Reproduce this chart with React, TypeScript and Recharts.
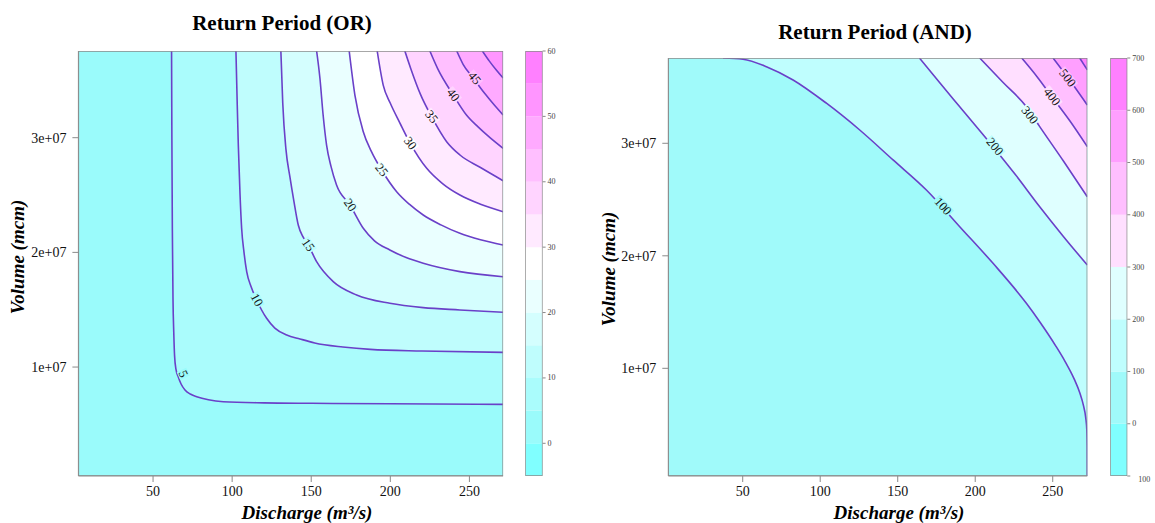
import React from 'react';
import {
  ComposedChart,
  Area,
  Line,
  Scatter,
  XAxis,
  YAxis,
  CartesianGrid
} from 'recharts';

// axis ticks shared by both panels
const dischargeTicks = [50, 100, 150, 200, 250];
const volumeTicks = [1e7, 2e7, 3e7];

// ---- Return Period (OR) ----
const orLevels = [5, 10, 15, 20, 25, 30, 35, 40, 45, 50];
const or5 = [[61.7, 3.756e7], [61.9, 3.0e7], [62.2, 2.2e7], [62.6, 1.6e7], [63.1, 1.3e7], [63.6, 1.1e7], [64.5, 0.98e7], [65.9, 0.916e7], [67.8, 0.85e7], [70.2, 0.80e7], [73.5, 0.765e7], [77.6, 0.742e7], [85, 0.715e7], [94.4, 0.698e7], [120, 0.688e7], [150, 0.684e7], [200, 0.68e7], [271.3, 0.675e7]];
const or10 = [[102.4, 3.756e7], [103.2, 3.3e7], [103.9, 2.936e7], [105, 2.5e7], [106, 2.21e7], [107.5, 2.0e7], [109.2, 1.832e7], [112, 1.7e7], [115.5, 1.585e7], [121.8, 1.425e7], [127, 1.34e7], [134.5, 1.28e7], [142.9, 1.245e7], [152.2, 1.21e7], [170, 1.175e7], [187.4, 1.154e7], [220, 1.14e7], [271.3, 1.128e7]];
const or15 = [[130.8, 3.756e7], [132, 3.3e7], [134, 2.9e7], [136.5, 2.66e7], [139, 2.45e7], [141.8, 2.239e7], [145, 2.13e7], [148.1, 2.064e7], [153.4, 1.919e7], [163.9, 1.745e7], [178.7, 1.629e7], [199.7, 1.556e7], [220.8, 1.518e7], [244, 1.498e7], [271.3, 1.478e7]];
const or20 = [[153.4, 3.756e7], [155.5, 3.518e7], [157.5, 3.2e7], [159.7, 2.936e7], [162.5, 2.75e7], [166, 2.588e7], [174.5, 2.413e7], [182.9, 2.21e7], [190, 2.1e7], [199.7, 2.021e7], [210, 1.955e7], [220.8, 1.905e7], [244, 1.832e7], [271.3, 1.788e7]];
const or25 = [[174, 3.756e7], [177.6, 3.372e7], [182.9, 3.052e7], [188, 2.88e7], [194.5, 2.718e7], [204, 2.529e7], [212, 2.42e7], [220.8, 2.326e7], [232, 2.24e7], [244, 2.166e7], [257, 2.11e7], [271.3, 2.064e7]];
const or30 = [[191.7, 3.756e7], [195.5, 3.459e7], [200, 3.3e7], [206, 3.13e7], [212.6, 2.951e7], [223, 2.733e7], [233, 2.6e7], [244, 2.5e7], [257, 2.42e7], [271.3, 2.355e7]];
const or35 = [[209.2, 3.756e7], [213, 3.6e7], [219, 3.38e7], [226.1, 3.183e7], [235.6, 2.965e7], [244, 2.849e7], [257, 2.74e7], [271.3, 2.625e7]];
const or40 = [[225, 3.756e7], [230, 3.6e7], [239.8, 3.372e7], [248, 3.2e7], [255.3, 3.096e7], [263, 3.0e7], [271.3, 2.907e7]];
const or45 = [[242, 3.756e7], [246, 3.64e7], [252.5, 3.518e7], [260, 3.38e7], [266, 3.28e7], [271.3, 3.198e7]];
const or50 = [[258.2, 3.756e7], [262.5, 3.67e7], [267, 3.59e7], [271.3, 3.52e7]];
const orLabelAt = [[69.1, 0.94e7], [115.5, 1.585e7], [148.1, 2.064e7], [174.5, 2.413e7], [194.5, 2.718e7], [212.6, 2.951e7], [226.1, 3.183e7], [239.8, 3.372e7], [253.2, 3.518e7]];
const orLabelTilt = [65, 62, 55, 55, 52, 52, 52, 52, 50];
const orBandEdges = [-5, 0, 5, 10, 15, 20, 25, 30, 35, 40, 45, 50, 55, 60];
const orBarTicks = [0, 10, 20, 30, 40, 50, 60];

// ---- Return Period (AND) ----
const andLevels = [100, 200, 300, 400, 500, 600];
const and100 = [[37.3, 3.758e7], [50.2, 3.747e7], [65.3, 3.681e7], [82.5, 3.563e7], [104, 3.356e7], [125.5, 3.118e7], [147, 2.852e7], [168.5, 2.585e7], [190, 2.259e7], [211.5, 1.933e7], [233, 1.578e7], [241.6, 1.414e7], [251.9, 1.2e7], [258, 1.06e7], [263.8, 0.906e7], [267.5, 0.78e7], [269.8, 0.67e7], [271.3, 0.56e7], [272.0, 0.45e7], [272.25, 0.3e7], [272.3, 0.043e7]];
const and200 = [[164, 3.758e7], [177, 3.54e7], [190, 3.325e7], [211.5, 2.97e7], [226, 2.72e7], [241.6, 2.436e7], [257, 2.17e7], [272.3, 1.918e7]];
const and300 = [[202.9, 3.758e7], [218, 3.54e7], [233, 3.325e7], [241.6, 3.148e7], [257, 2.84e7], [272.3, 2.525e7]];
const and400 = [[230, 3.758e7], [240, 3.59e7], [249.5, 3.413e7], [261, 3.2e7], [272.3, 2.97e7]];
const and500 = [[250.2, 3.758e7], [261, 3.56e7], [272.3, 3.34e7]];
const and600 = [[267.4, 3.758e7], [272.3, 3.652e7]];
const andLabelAt = [[179.2, 2.44e7], [212.6, 2.97e7], [235.2, 3.25e7], [249.5, 3.413e7], [259.5, 3.58e7]];
const andLabelTilt = [48, 50, 52, 52, 52];
const andBandEdges = [-100, 0, 100, 200, 300, 400, 500, 600, 700];
const andBarTicks = [-100, 0, 100, 200, 300, 400, 500, 600, 700];

// cm.colors style palettes (one per band)
const orPalette = ['#80FFFF', '#9AFBFB', '#AAFCFC', '#BFFDFD', '#D4FEFE', '#EAFFFF', '#FFFFFF', '#FFEAFF', '#FFD4FF', '#FFBFFF', '#FFAAFF', '#FF95FF', '#FF80FF'];
const andPalette = ['#80FFFF', '#A0FAFA', '#BFFEFE', '#DFFFFF', '#FFDFFF', '#FFBFFF', '#FF9FFF', '#FF80FF'];

const SERIF = '"Liberation Serif", "Times New Roman", serif';
const FRAME = '#8a8a8a';
const CONTOUR = '#6a40c8';

const toPoints = (pairs: number[][]) => pairs.map(([x, y]) => ({ x, y }));

// closed outline of the plotting box, from the axis domains
const boxOf = (xd: number[], yd: number[]) => [
  { x: xd[0], y: yd[0] },
  { x: xd[0], y: yd[1] },
  { x: xd[1], y: yd[1] },
  { x: xd[1], y: yd[0] },
  { x: xd[0], y: yd[0] }
];

const sciFormat = (v: number) => `${Math.round(v / 1e7)}e+07`;

const makeLabel = (levels: number[], fills: string[], baseFill: string) => (props: any) => {
  const { cx, cy, payload } = props;
  if (cx == null || cy == null) return null;
  const i = levels.indexOf(payload.level);
  const bg = i > 0 ? fills[i - 1] : baseFill;
  const txt = String(payload.level);
  const fs = 12.5;
  const w = txt.length * fs * 0.52 + 2;
  return (
    <g transform={`rotate(${payload.tilt} ${cx} ${cy})`}>
      <rect x={cx - w / 2} y={cy - fs * 0.42} width={w} height={fs * 0.84} fill={bg} />
      <text x={cx} y={cy} textAnchor="middle" dominantBaseline="central" fontSize={fs} fontFamily={SERIF} fill="#111">
        {txt}
      </text>
    </g>
  );
};

interface PanelProps {
  left: number;
  width: number;
  margin: { top: number; right: number; bottom: number; left: number };
  xDomain: number[];
  yDomain: number[];
  contours: number[][][];
  levels: number[];
  fills: string[];
  baseFill: string;
  labelAt: number[][];
  labelTilt: number[];
}

const ContourPanel: React.FC<PanelProps> = ({
  left, width, margin, xDomain, yDomain, contours, levels, fills, baseFill, labelAt, labelTilt
}) => {
  const lines = contours.map(toPoints);
  const labels = labelAt.map(([x, y], i) => ({ x, y, level: levels[i], tilt: labelTilt[i] }));
  const axisTick = { fontSize: 14, fill: '#111', fontFamily: SERIF };
  const renderLabel = makeLabel(levels, fills, baseFill);

  return (
    <div style={{ position: 'absolute', left, top: 0 }}>
      <ComposedChart width={width} height={523} margin={margin}>
        <CartesianGrid horizontal={false} vertical={false} fill={baseFill} fillOpacity={1} />
        {lines.map((pts, i) => (
          <Area
            key={`fill-${levels[i]}`}
            data={pts}
            dataKey="y"
            type="monotone"
            baseValue="dataMax"
            fill={fills[i]}
            fillOpacity={1}
            stroke="none"
            dot={false}
            activeDot={false}
            isAnimationActive={false}
          />
        ))}
        {lines.map((pts, i) => (
          <Line
            key={`line-${levels[i]}`}
            data={pts}
            dataKey="y"
            type="monotone"
            stroke={CONTOUR}
            strokeWidth={1.6}
            dot={false}
            activeDot={false}
            isAnimationActive={false}
          />
        ))}
        <Line
          data={boxOf(xDomain, yDomain)}
          dataKey="y"
          type="linear"
          stroke={FRAME}
          strokeWidth={1.4}
          dot={false}
          activeDot={false}
          isAnimationActive={false}
        />
        <Scatter data={labels} dataKey="y" shape={renderLabel} isAnimationActive={false} />
        <XAxis
          dataKey="x"
          type="number"
          domain={xDomain}
          ticks={dischargeTicks}
          allowDataOverflow
          height={30}
          tickSize={6}
          tickMargin={4}
          stroke={FRAME}
          tick={axisTick}
        />
        <XAxis
          xAxisId="top"
          orientation="top"
          type="number"
          domain={xDomain}
          ticks={dischargeTicks}
          allowDataOverflow
          height={0}
          tickSize={6}
          tick={false}
          stroke={FRAME}
        />
        <YAxis
          dataKey="y"
          type="number"
          domain={yDomain}
          ticks={volumeTicks}
          allowDataOverflow
          width={70}
          tickSize={6}
          tickMargin={6}
          tickFormatter={sciFormat}
          stroke={FRAME}
          tick={axisTick}
        />
        <YAxis
          yAxisId="right"
          orientation="right"
          type="number"
          domain={yDomain}
          ticks={volumeTicks}
          allowDataOverflow
          width={0}
          tickSize={6}
          tick={false}
          stroke={FRAME}
        />
      </ComposedChart>
    </div>
  );
};

interface BarProps {
  left: number;
  width: number;
  top: number;
  axisWidth: number;
  edges: number[];
  colors: string[];
  ticks: number[];
}

const BarTick = (props: any) => {
  const { x, y, payload } = props;
  const neg = payload.value < 0;
  return (
    <text
      x={x + (neg ? 6 : 0)}
      y={y + (neg ? 3 : 0)}
      dominantBaseline="central"
      textAnchor="start"
      fontSize={8}
      fontFamily={SERIF}
      fill="#444"
    >
      {Math.abs(payload.value)}
    </text>
  );
};

const ColorBar: React.FC<BarProps> = ({ left, width, top, axisWidth, edges, colors, ticks }) => {
  const lo = edges[0];
  const hi = edges[edges.length - 1];
  // each band is a flat area from its lower edge up to its upper edge
  const bands = colors.map((c, i) => ({
    color: c,
    base: edges[i],
    pts: [{ x: 0, y: edges[i + 1] }, { x: 1, y: edges[i + 1] }]
  }));
  return (
    <div style={{ position: 'absolute', left, top: 0 }}>
      <ComposedChart width={width} height={523} margin={{ top, right: 0, bottom: 47, left: 5.3 }}>
        {bands.map((b, i) => (
          <Area
            key={i}
            data={b.pts}
            dataKey="y"
            type="linear"
            baseValue={b.base}
            fill={b.color}
            fillOpacity={1}
            stroke="none"
            dot={false}
            activeDot={false}
            isAnimationActive={false}
          />
        ))}
        <Line
          data={boxOf([0, 1], [lo, hi])}
          dataKey="y"
          type="linear"
          stroke={FRAME}
          strokeWidth={1.4}
          dot={false}
          activeDot={false}
          isAnimationActive={false}
        />
        <XAxis dataKey="x" type="number" domain={[0, 1]} allowDataOverflow hide />
        <YAxis
          dataKey="y"
          orientation="right"
          type="number"
          domain={[lo, hi]}
          ticks={ticks}
          allowDataOverflow
          width={axisWidth}
          axisLine={false}
          tickSize={3}
          tickMargin={2}
          stroke={FRAME}
          tick={BarTick}
        />
      </ComposedChart>
    </div>
  );
};

const textBase: React.CSSProperties = {
  position: 'absolute',
  fontFamily: SERIF,
  whiteSpace: 'nowrap',
  color: '#000',
  transform: 'translate(-50%, -50%)',
  lineHeight: 1
};

const Title = ({ x, y, children }: { x: number; y: number; children: React.ReactNode }) => (
  <div style={{ ...textBase, left: x, top: y, fontSize: 21, fontWeight: 'bold' }}>{children}</div>
);

const AxisTitle = ({ x, y, rotate, children }: { x: number; y: number; rotate?: boolean; children: React.ReactNode }) => (
  <div
    style={{
      ...textBase,
      left: x,
      top: y,
      fontSize: 19,
      fontWeight: 'bold',
      fontStyle: 'italic',
      transform: rotate ? 'translate(-50%, -50%) rotate(-90deg)' : 'translate(-50%, -50%)'
    }}
  >
    {children}
  </div>
);

export default function App() {
  return (
    <div style={{ position: 'absolute', left: 0, top: 0, width: 1155, height: 523, background: '#fff', overflow: 'hidden' }}>
      <ContourPanel
        left={0}
        width={520}
        margin={{ top: 51, right: 16.9, bottom: 17, left: 8.4 }}
        xDomain={[2.8, 271.3]}
        yDomain={[0.05e7, 3.756e7]}
        contours={[or5, or10, or15, or20, or25, or30, or35, or40, or45, or50]}
        levels={orLevels}
        fills={orPalette.slice(2, 12)}
        baseFill={orPalette[1]}
        labelAt={orLabelAt}
        labelTilt={orLabelTilt}
      />
      <ColorBar left={520} width={60} top={51} axisWidth={37.4} edges={orBandEdges} colors={orPalette} ticks={orBarTicks} />

      <ContourPanel
        left={590}
        width={520}
        margin={{ top: 58, right: 22.7, bottom: 17, left: 8.3 }}
        xDomain={[2.0, 272.3]}
        yDomain={[0.043e7, 3.758e7]}
        contours={[and100, and200, and300, and400, and500, and600]}
        levels={andLevels}
        fills={andPalette.slice(2, 8)}
        baseFill={andPalette[1]}
        labelAt={andLabelAt}
        labelTilt={andLabelTilt}
      />
      <ColorBar left={1105} width={50} top={58} axisWidth={27.7} edges={andBandEdges} colors={andPalette} ticks={andBarTicks} />

      <Title x={282} y={23}>Return Period (OR)</Title>
      <Title x={875} y={32}>Return Period (AND)</Title>
      <AxisTitle x={307} y={512}>Discharge (m³/s)</AxisTitle>
      <AxisTitle x={899} y={512}>Discharge (m³/s)</AxisTitle>
      <AxisTitle x={17} y={257} rotate>Volume (mcm)</AxisTitle>
      <AxisTitle x={608} y={269} rotate>Volume (mcm)</AxisTitle>
    </div>
  );
}
